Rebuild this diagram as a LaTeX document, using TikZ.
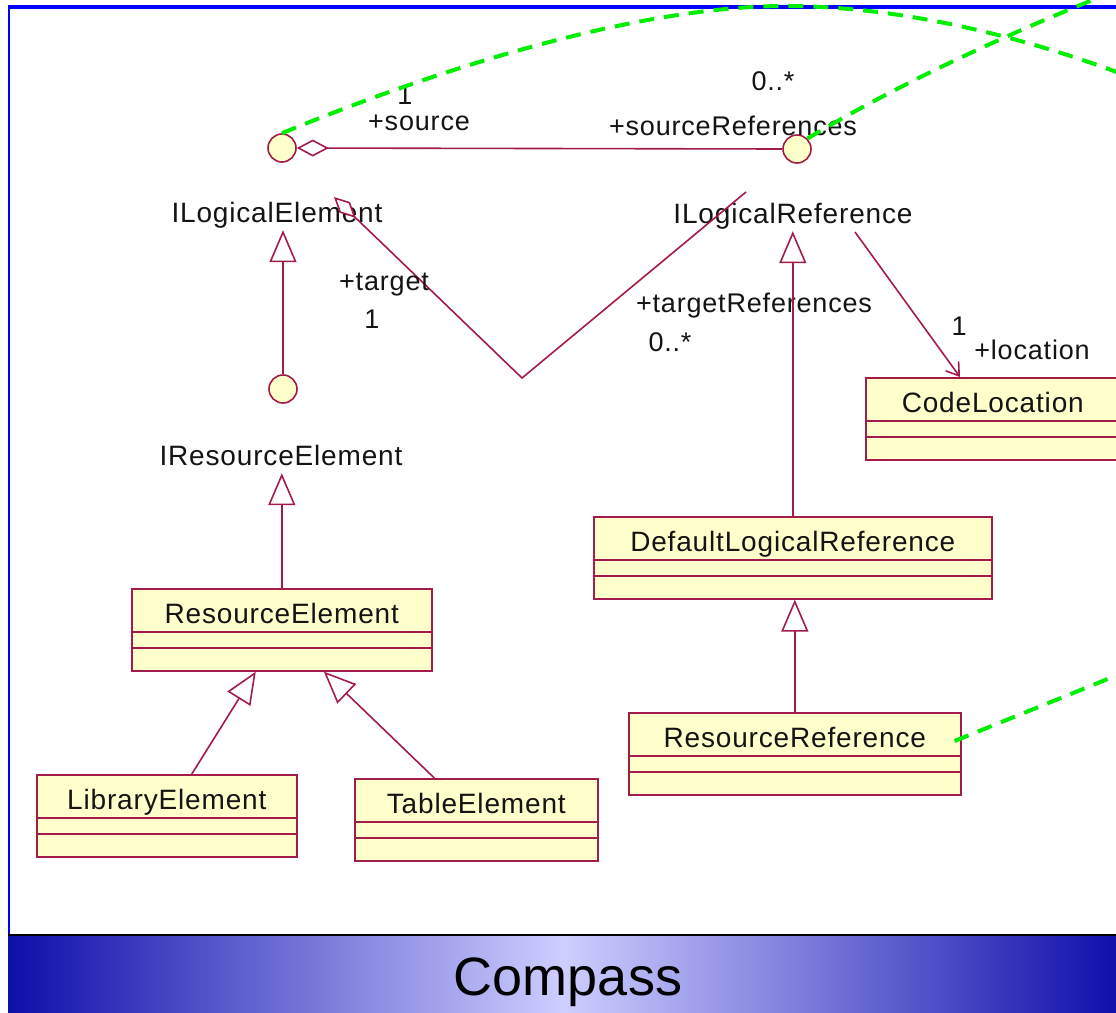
\documentclass[tikz,border=0pt]{standalone}
\usepackage{fontspec}
\setmainfont{Liberation Sans}
\newfontfamily\umlfont[LetterSpace=3]{Liberation Sans}
\usetikzlibrary{arrows.meta,calc}

\definecolor{umlred}{RGB}{163,27,74}
\definecolor{umlfill}{RGB}{255,255,204}
\definecolor{txt}{RGB}{20,20,20}
\definecolor{frameblue}{RGB}{0,0,255}
\definecolor{linkgreen}{RGB}{0,238,0}
\definecolor{bandedge}{RGB}{14,14,170}
\definecolor{bandmid}{RGB}{206,206,255}

\tikzset{
  umlline/.style={draw=umlred, line width=1.6pt},
  classbox/.style={draw=umlred, fill=umlfill, line width=1.6pt, rectangle,
    inner sep=0pt, minimum height=82pt, anchor=north west},
  classname/.style={text=txt, font=\umlfont\fontsize{28}{30}\selectfont, inner sep=0pt, anchor=base},
  iface/.style={circle, draw=umlred, fill=umlfill, line width=1.6pt,
    minimum size=28pt, inner sep=0pt},
  ifname/.style={text=txt, font=\umlfont\fontsize{28}{30}\selectfont, inner sep=2pt,
    text depth=6pt, anchor=base},
  role/.style={text=txt, font=\umlfont\fontsize{27}{30}\selectfont, inner sep=0pt, anchor=base},
  realize/.style={draw=linkgreen, line width=4pt, dash pattern=on 15pt off 10pt},
  inherit/.style={umlline, -{Triangle[open, fill=white, length=32pt, width=27pt]}},
}

% UML class: name, left x, top y, width, class name
\newcommand{\drawclass}[5]{%
  \node[classbox, minimum width=#4] (#1) at (#2,#3) {};
  \node[classname] (#1-name) at ($(#1.north)+(0,35)$) {#5};
  \draw[umlline] ($(#1.north west)+(0,44)$) -- ($(#1.north east)+(0,44)$);
  \draw[umlline] ($(#1.north west)+(0,60)$) -- ($(#1.north east)+(0,60)$);
}

\begin{document}
\begin{tikzpicture}[x=1pt,y=-1pt]
\useasboundingbox (0,0) rectangle (1116,1012);
\clip (0,0) rectangle (1116,1012);
\fill[white] (0,0) rectangle (1116,1012);

% slide frame
\draw[frameblue, line width=4pt] (8,7) -- (1120,7);
\draw[frameblue, line width=2.5pt] (9,5.5) -- (9,936);

% footer band
\shade[left color=bandedge, right color=bandedge, middle color=bandmid]
  (8,935) rectangle (1120,1014);
\draw[black, line width=2pt] (8,935) -- (1120,935);
\node[font=\fontsize{54}{60}\selectfont, anchor=base, text=black, inner sep=0pt]
  (title) at (568,995) {Compass};

% classes
\drawclass{re}{131}{588}{300}{ResourceElement}
\drawclass{le}{36}{774}{260}{LibraryElement}
\drawclass{te}{354}{778}{243}{TableElement}
\drawclass{dlr}{593}{516}{398}{DefaultLogicalReference}
\drawclass{rr}{628}{712}{332}{ResourceReference}
\drawclass{cl}{865}{377}{254}{CodeLocation}

% interfaces
\node[iface] (ile) at (282,148) {};
\node[iface] (ilr) at (797,149) {};
\node[iface] (ire) at (283,389) {};
\node[ifname] (ile-name) at (277,222) {ILogicalElement};
\node[ifname] (ilr-name) at (793,223) {ILogicalReference};
\node[ifname] (ire-name) at (281,465) {IResourceElement};

% source association
\draw[umlline, {Diamond[open, fill=white, length=32pt, width=17pt]}-] (ile.east) -- (ilr.west);

% target association
\coordinate (tgt-end) at (334,197);
\coordinate (tgt-bend) at (522,378);
\coordinate (ref-end) at (746,192);
\draw[umlline, {Diamond[open, fill=white, length=30pt, width=15pt]}-]
  (tgt-end) -- (tgt-bend) -- (ref-end);

% location association
\coordinate (loc-start) at (855,232);
\draw[umlline, -{Straight Barb[length=12pt, width=16pt]}]
  (loc-start) -- ($(cl.north west)+(95,0)$);

% roles and multiplicities
\node[role] (m-src) at (405,104) {1};
\node[role] (r-src) at (419,130) {+source};
\node[role] (m-srcref) at (773,90) {0..*};
\node[role] (r-srcref) at (733,135) {+sourceReferences};
\node[role] (r-tgt) at (384,290) {+target};
\node[role] (m-tgt) at (372,328) {1};
\node[role] (r-tgtref) at (754,312) {+targetReferences};
\node[role] (m-tgtref) at (670,351) {0..*};
\node[role] (m-loc) at (959,335) {1};
\node[role] (r-loc) at (1032,359) {+location};

% generalizations
\draw[inherit] (ire.north) -- (ire.north |- ile-name.south);
\draw[inherit] (re.north) -- (re.north |- ire-name.south);
\draw[inherit] ($(le.north)+(25,0)$) -- ($(re.south)+(-26,0)$);
\draw[inherit] ($(te.north)+(-42,0)$) -- ($(re.south)+(42,0)$);
\draw[inherit] (dlr.north) -- (dlr.north |- ilr-name.south);
\draw[inherit] (rr.north) -- (rr.north |- dlr.south);

% trace links
\coordinate (link-a) at (1130,77);
\coordinate (link-b) at (1105,-5);
\coordinate (link-c) at (1125,672);
\draw[realize] (ile.north) .. controls (460,60) and (650,5) .. (790,6)
  .. controls (900,7) and (1020,35) .. (link-a);
\draw[realize] (ilr.north east) .. controls (880,95) and (980,45) .. (link-b);
\draw[realize] ($(rr.north east)+(-7,29)$) -- (link-c);
\end{tikzpicture}
\end{document}
